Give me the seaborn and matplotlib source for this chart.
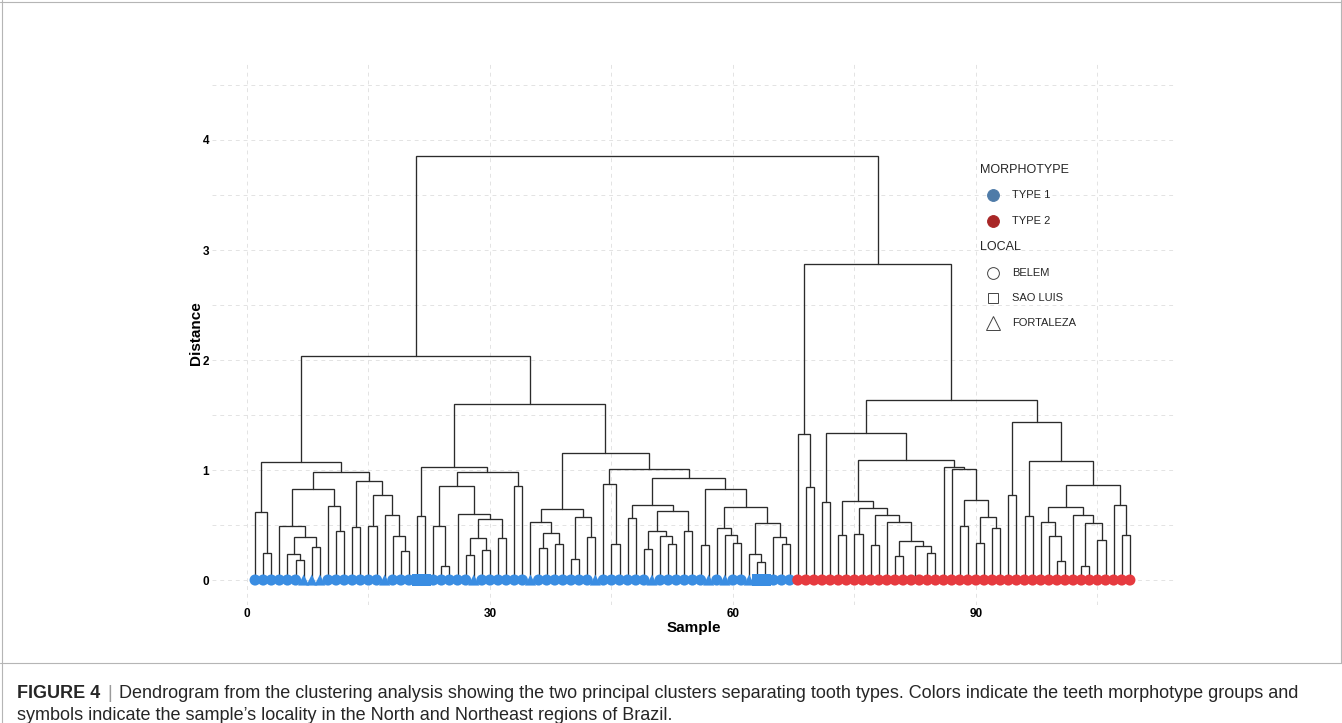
import matplotlib
matplotlib.use("Agg")
import matplotlib.pyplot as plt
from matplotlib.lines import Line2D
import pandas as pd
import seaborn as sns

# dendrogram pieces: [left, right, merge height]; plain ints are sample numbers
A1 = [1, [2, 3, 0.25], 0.62]
B1 = [[4, [[5, [6, 7, 0.18], 0.24], [8, 9, 0.30], 0.39], 0.49], [10, [11, 12, 0.45], 0.67], 0.83]
B2 = [[13, 14, 0.485], [[15, 16, 0.49], [17, [18, [19, 20, 0.26], 0.40], 0.59], 0.77], 0.90]
L1 = [A1, [B1, B2, 0.98], 1.075]

L2 = [[21, 22, 0.58],
      [[[23, [24, 25, 0.13], 0.495],
        [26, [[[27, 28, 0.23], [29, 30, 0.275], 0.38], [31, 32, 0.38], 0.555], 0.60], 0.855],
       [33, 34, 0.855], 0.98], 1.03]

R35 = [[35, [[36, 37, 0.29], [38, 39, 0.33], 0.43], 0.525], [[40, 41, 0.19], [42, 43, 0.39], 0.57], 0.65]
C47 = [[47, 48, 0.56], [[[49, 50, 0.28], [51, [52, 53, 0.33], 0.40], 0.445], [54, 55, 0.45], 0.63], 0.68]
C56 = [[56, 57, 0.315],
       [[58, [59, [60, 61, 0.34], 0.405], 0.47],
        [[62, [63, 64, 0.16], 0.235], [65, [66, 67, 0.325], 0.395], 0.515], 0.66], 0.83]
R44 = [[44, [45, 46, 0.33], 0.87], [C47, C56, 0.93], 1.006]
blue_side = [L1, [L2, [R35, R44, 1.157], 1.6], 2.035]

RA = [68, [69, 70, 0.85], 1.33]
R73 = [[73, 74, 0.405],
       [[75, 76, 0.42],
        [[77, 78, 0.32], [79, [[80, 81, 0.22], [[82, 83, 0.03], [84, 85, 0.25], 0.31], 0.357], 0.527], 0.59],
        0.655], 0.72]
R86 = [86, [87, [[88, 89, 0.49], [[90, 91, 0.335], [92, 93, 0.47], 0.57], 0.73], 1.01], 1.025]
RB = [[71, 72, 0.705], [R73, R86, 1.09], 1.34]
RC = [[94, 95, 0.77],
      [[96, 97, 0.585],
       [[[98, [99, [100, 101, 0.175], 0.40], 0.53], [102, [[103, 104, 0.13], [105, 106, 0.36], 0.515], 0.595], 0.66],
        [107, [108, 109, 0.41], 0.685], 0.86], 1.08], 1.44]
red_side = [RA, [RB, RC, 1.636], 2.87]
tree = [blue_side, red_side, 3.855]

# leaf groups
n_type1 = 67
n_type2 = 42
fortaleza = [7, 8, 9, 17, 28, 35, 43, 50, 57, 59, 62]
sao_luis = [21, 22, 63, 64]

x_ticks = [0, 30, 60, 90]
y_ticks = [0, 1, 2, 3, 4]

W, H = 1342, 723


def px(x, y):
    # pixel (top-left origin) -> figure fraction
    return x / W, 1 - y / H


def walk(node, segs):
    if isinstance(node, int):
        return float(node), 0.0
    xl, hl = walk(node[0], segs)
    xr, hr = walk(node[1], segs)
    h = node[2]
    segs.append(([xl, xl, xr, xr], [hl, h, h, hr]))
    return (xl + xr) / 2, h


sns.set_theme(style="white")
plt.rcParams["font.family"] = ["Liberation Sans", "DejaVu Sans"]

fig = plt.figure(figsize=(W / 100, H / 100), dpi=100)
ax = fig.add_axes([212 / W, (H - 605) / H, (1175 - 212) / W, (605 - 62) / H])

segs = []
walk(tree, segs)
for xs, ys in segs:
    ax.plot(xs, ys, color="#2b2b2b", lw=0.95, solid_joinstyle="miter", zorder=2)

samples = list(range(1, n_type1 + n_type2 + 1))
df = pd.DataFrame({
    "sample": samples,
    "distance": 0.0,
    "morphotype": ["TYPE 1"] * n_type1 + ["TYPE 2"] * n_type2,
    "local": ["FORTALEZA" if s in fortaleza else "SAO LUIS" if s in sao_luis else "BELEM" for s in samples],
})
sns.scatterplot(
    data=df, x="sample", y="distance", hue="morphotype", style="local",
    palette={"TYPE 1": "#3a8de2", "TYPE 2": "#e63a3f"},
    markers={"BELEM": "o", "SAO LUIS": "s", "FORTALEZA": "^"},
    s=64, linewidth=0, legend=False, zorder=3, ax=ax,
)

ax.set_xlim(-4.32, 114.57)
ax.set_ylim(-0.227, 4.709)
ax.set_xticks(x_ticks)
ax.set_xticks([15, 45, 75, 105], minor=True)
ax.set_yticks(y_ticks)
ax.set_yticks([0.5, 1.5, 2.5, 3.5, 4.5], minor=True)
ax.grid(which="both", color="#e3e3e3", lw=0.7, ls=(0, (4, 4)))
ax.set_axisbelow(True)
ax.tick_params(which="both", length=0, labelsize=8.5, pad=2)
for lab in ax.get_xticklabels() + ax.get_yticklabels():
    lab.set_fontweight("bold")
    lab.set_color("black")
for sp in ax.spines.values():
    sp.set_visible(False)
ax.set_xlabel("Sample", fontsize=11, fontweight="bold", labelpad=1, color="black")
ax.set_ylabel("Distance", fontsize=11, fontweight="bold", labelpad=0, color="black")

# legend drawn by hand to keep the ggplot look
fig.text(*px(980, 170), "MORPHOTYPE", fontsize=9, va="center", ha="left")
fig.text(*px(980, 247), "LOCAL", fontsize=9, va="center", ha="left")
legend_rows = [
    ("TYPE 1", 194.5, "o", "#4e7ba8", "#4e7ba8"),
    ("TYPE 2", 221, "o", "#a82626", "#a82626"),
    ("BELEM", 273, "o", "none", "#444444"),
    ("SAO LUIS", 298, "s", "none", "#444444"),
    ("FORTALEZA", 323, "^", "none", "#444444"),
]
for label, yy, mk, fc, ec in legend_rows:
    ms = 8.5 if mk == "o" else (7 if mk == "s" else 10.5)
    fig.add_artist(Line2D([992.5 / W], [1 - yy / H], marker=mk, ms=ms, mfc=fc, mec=ec,
                          mew=0.7, ls="none", transform=fig.transFigure))
    fig.text(*px(1012, yy), label, fontsize=8, va="center", ha="left")

# frame and caption
frame = "#b5b5b5"
fig.add_artist(Line2D([1.5 / W, 1.5 / W], [0, 1], color=frame, lw=0.8, transform=fig.transFigure))
fig.add_artist(Line2D([0, 1], [1 - 1.5 / H, 1 - 1.5 / H], color=frame, lw=0.8, transform=fig.transFigure))
fig.add_artist(Line2D([1 - 1.5 / W, 1 - 1.5 / W], [1 - 663 / H, 1], color=frame, lw=0.8, transform=fig.transFigure))
fig.add_artist(Line2D([0, 1], [1 - 663 / H, 1 - 663 / H], color=frame, lw=0.8, transform=fig.transFigure))

renderer = fig.canvas.get_renderer()
t1 = fig.text(*px(17, 693), "FIGURE 4", fontsize=13, fontweight="bold", va="center", ha="left")
x1 = t1.get_window_extent(renderer).x1
t2 = fig.text((x1 + 7) / W, 1 - 693 / H, "|", fontsize=13, color="#9a9a9a", va="center", ha="left")
x2 = t2.get_window_extent(renderer).x1
fig.text((x2 + 7) / W, 1 - 693 / H,
         "Dendrogram from the clustering analysis showing the two principal clusters separating "
         "tooth types. Colors indicate the teeth morphotype groups and",
         fontsize=13, va="center", ha="left")
fig.text(*px(17, 716), "symbols indicate the sample\u2019s locality in the North and Northeast regions of Brazil.",
         fontsize=13, va="center", ha="left")

fig.savefig("out.png", dpi=100, facecolor="white")
